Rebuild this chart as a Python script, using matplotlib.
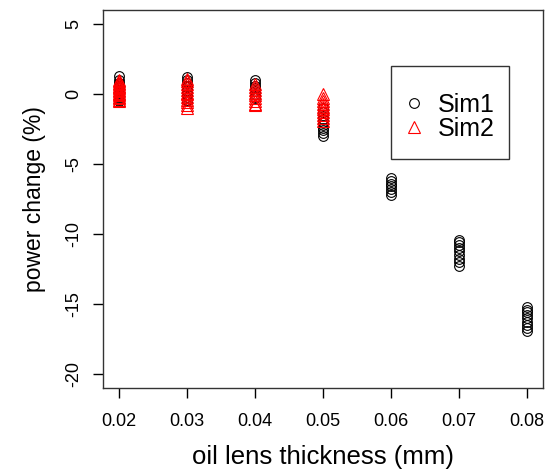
import matplotlib
matplotlib.use('Agg')
import matplotlib.pyplot as plt
from matplotlib.patches import Rectangle

plt.rcParams['font.family'] = ['Liberation Sans', 'DejaVu Sans']

# oil lens thickness (mm) and power change (%)
thickness = [0.02, 0.03, 0.04, 0.05, 0.06, 0.07, 0.08]

sim1_values = [
    [1.3, 1.0, 0.8, 0.7, 0.6, 0.5, 0.4, 0.3, 0.2, 0.1, 0.0, -0.1, -0.2, -0.3, -0.4, -0.5],
    [1.2, 1.0, 0.8, 0.6, 0.5, 0.3, 0.2, 0.0, -0.2, -0.4, -0.5],
    [1.0, 0.8, 0.6, 0.4, 0.2, 0.0, -0.2, -0.3],
    [-1.0, -1.3, -1.6, -1.8, -2.0, -2.2, -2.4, -2.6, -2.8, -3.0],
    [-6.0, -6.2, -6.4, -6.6, -6.8, -7.0, -7.2],
    [-10.4, -10.6, -10.8, -11.0, -11.2, -11.5, -11.8, -12.0, -12.3],
    [-15.2, -15.4, -15.6, -15.8, -16.0, -16.3, -16.5, -16.7, -16.9],
]

sim2_values = [
    [1.0, 0.9, 0.8, 0.7, 0.6, 0.5, 0.4, 0.3, 0.2, 0.1, 0.0, -0.1, -0.2, -0.3, -0.4, -0.5],
    [1.1, 0.9, 0.7, 0.5, 0.3, 0.1, 0.0, -0.2, -0.4, -0.6, -0.8, -1.0],
    [0.7, 0.5, 0.3, 0.1, -0.1, -0.3, -0.5, -0.7, -0.8],
    [0.0, -0.3, -0.5, -0.7, -0.9, -1.1, -1.3, -1.5, -1.7, -1.9],
]

x_ticks = [0.02, 0.03, 0.04, 0.05, 0.06, 0.07, 0.08]
y_ticks = [5, 0, -5, -10, -15, -20]

fig = plt.figure(figsize=(5.49, 4.71), dpi=100)
ax = fig.add_axes([0.1876, 0.1762, 0.8014, 0.8026])

# flatten the groups
x1, y1 = [], []
for x, vals in zip(thickness, sim1_values):
    x1 += [x] * len(vals)
    y1 += vals
x2, y2 = [], []
for x, vals in zip(thickness, sim2_values):
    x2 += [x] * len(vals)
    y2 += vals

ax.plot(x1, y1, linestyle='none', marker='o', markersize=7, markerfacecolor='none',
        markeredgecolor='black', markeredgewidth=0.8, label='Sim1')
ax.plot(x2, y2, linestyle='none', marker='^', markersize=8.5, markerfacecolor='none',
        markeredgecolor='red', markeredgewidth=0.8, label='Sim2')

ax.set_xlim(0.0176, 0.0824)
ax.set_ylim(-21, 6)
ax.set_xticks(x_ticks)
ax.set_xticklabels(['%.2f' % t for t in x_ticks])
ax.set_yticks(y_ticks)
ax.set_yticklabels([str(t) for t in y_ticks], rotation=90, va='center')
ax.tick_params(direction='out', length=7, width=1, labelsize=13)
ax.tick_params(axis='x', pad=11)
ax.tick_params(axis='y', pad=8)

for s in ax.spines.values():
    s.set_color('#333333')
    s.set_linewidth(1)

ax.set_xlabel('oil lens thickness (mm)', fontsize=18.5, labelpad=11)
ax.set_ylabel('power change (%)', fontsize=16.5, labelpad=14)

# R-style legend: box drawn separately, entries placed inside it
ax.add_patch(Rectangle((0.655, 0.606), 0.268, 0.246, transform=ax.transAxes,
                       fill=False, edgecolor='#333333', linewidth=1, zorder=5))
ax.legend(loc='upper left', bbox_to_anchor=(0.678, 0.78), fontsize=18,
          frameon=False, borderpad=0, handletextpad=0.45, labelspacing=0.0,
          handlelength=1.0, borderaxespad=0)

plt.savefig('out.png', dpi=100)
plt.close()
